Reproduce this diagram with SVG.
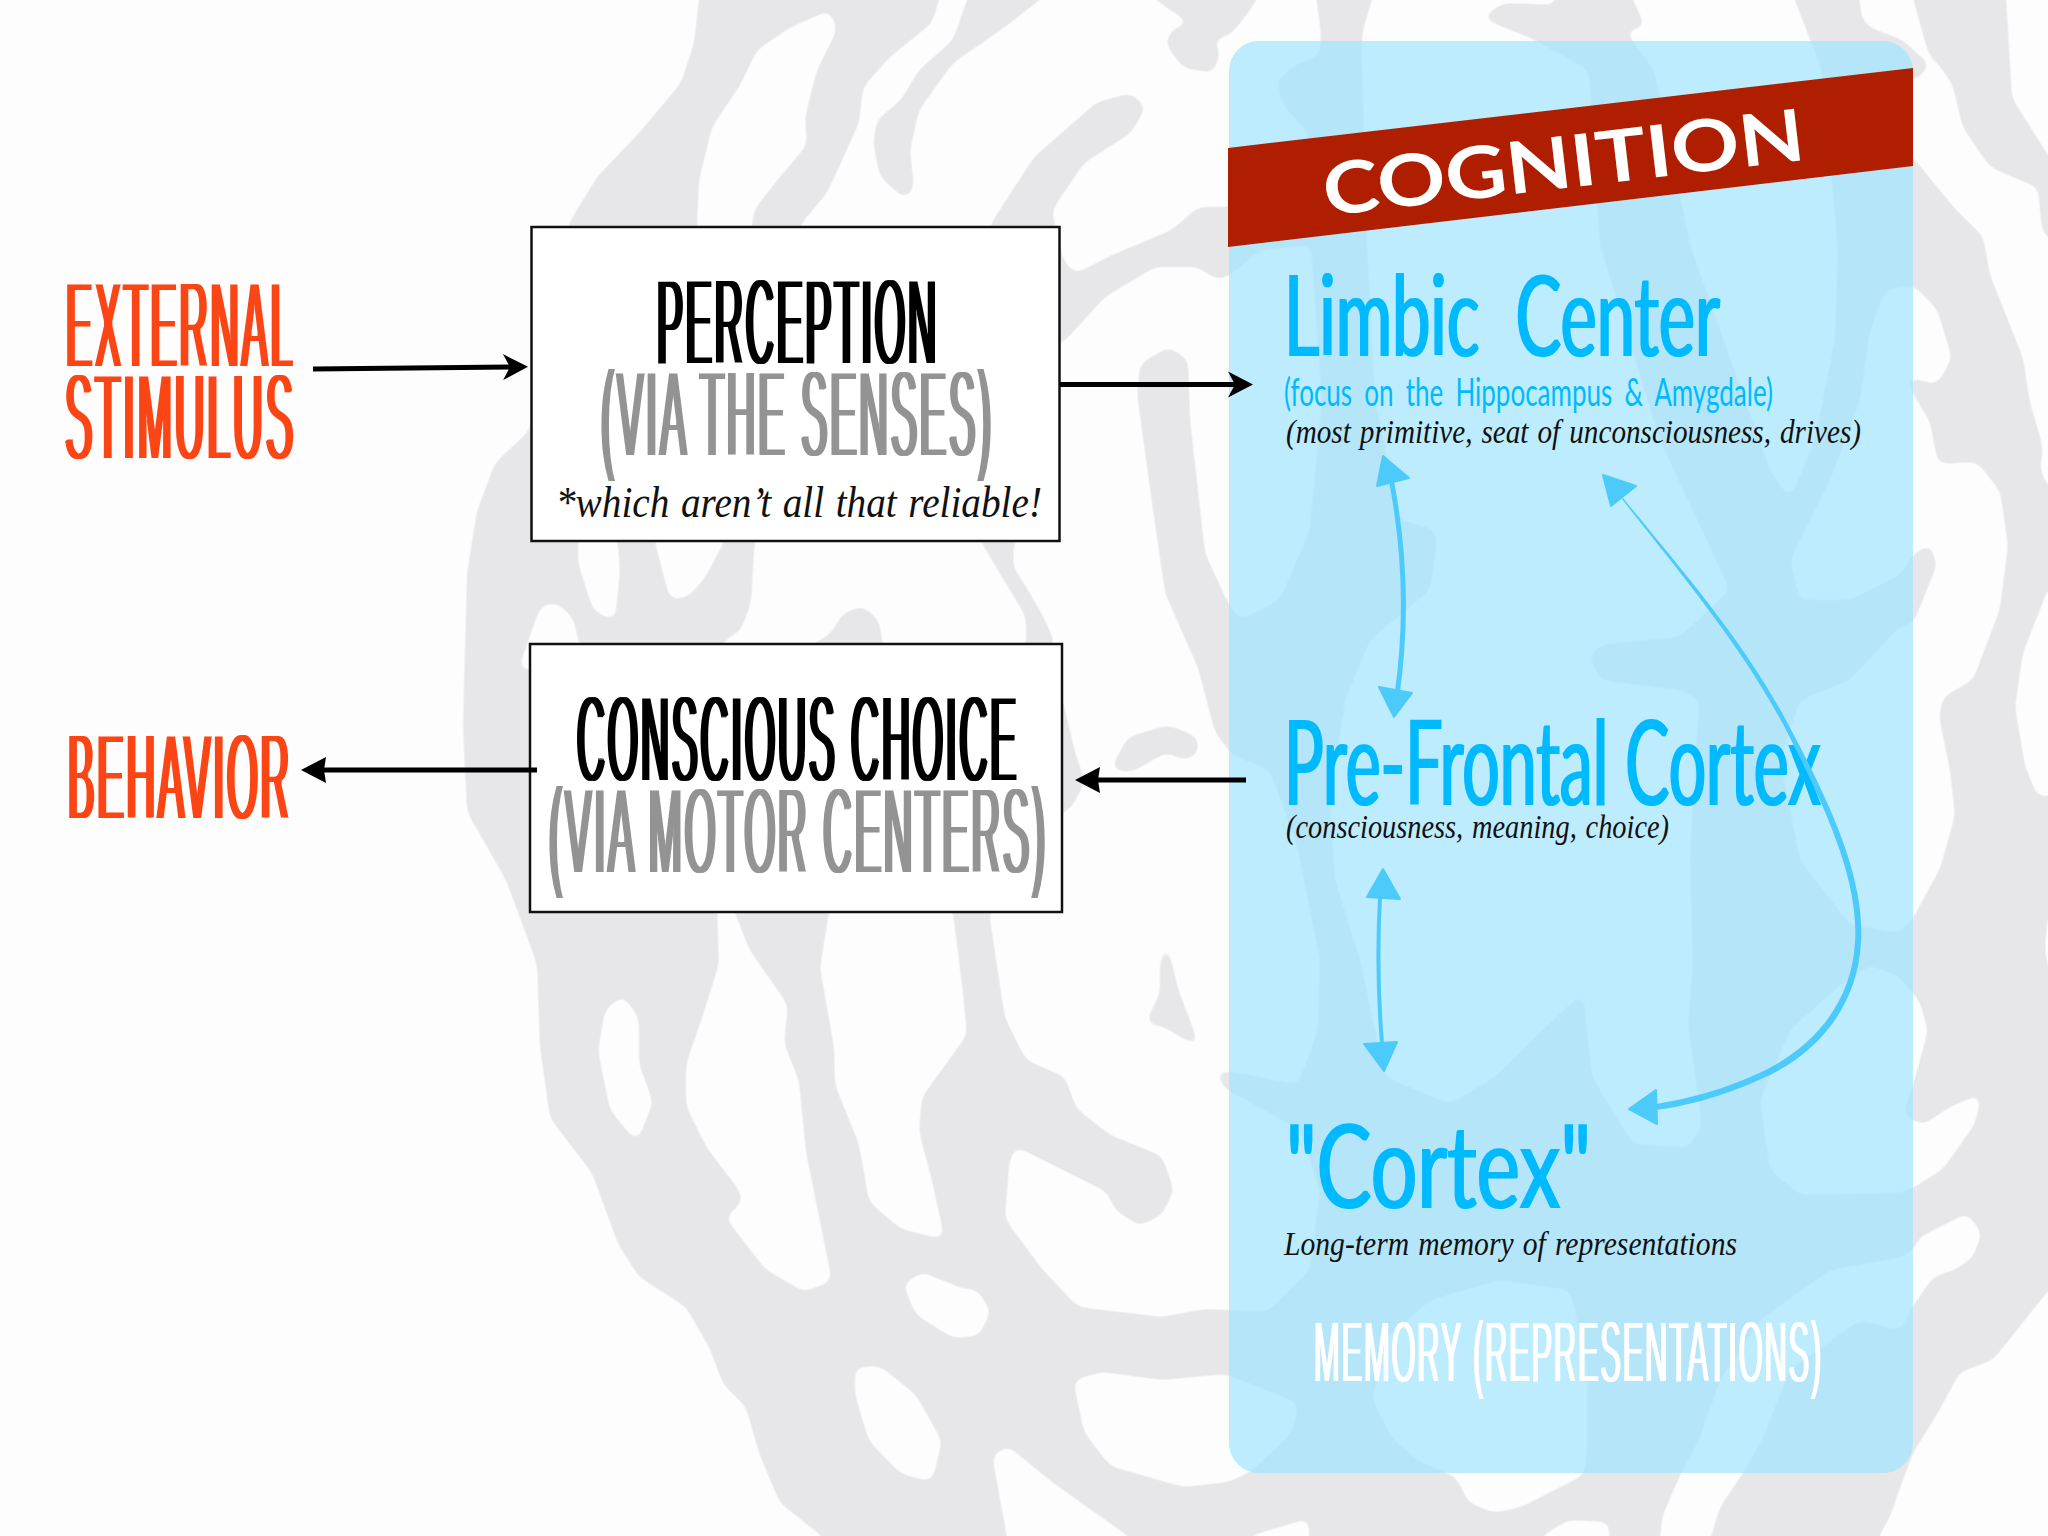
<svg xmlns="http://www.w3.org/2000/svg" width="2048" height="1536" viewBox="0 0 2048 1536">
<style>
.k{fill:#000}.w{fill:#fff}
.t{font-family:"Liberation Sans",Arial,sans-serif;font-size:125px;font-weight:400;letter-spacing:9px;filter:url(#cond)}
.black{fill:#000}.grey{fill:#939393}.orange{fill:#fb4514}
.serif{font-family:"Liberation Serif","Times New Roman",serif;font-style:italic;fill:#111;word-spacing:2px}
.hand{font-family:Lato,"Noto Sans",sans-serif;fill:#00baff}
.fat{filter:url(#fat)}
.box{fill:#fff;stroke:#111;stroke-width:2.5}
.ln{fill:none;stroke:#000;stroke-width:5}
.bl{fill:none;stroke:#4ccbfb;stroke-width:5;stroke-linecap:round}
.bh{fill:#4ccbfb;stroke:#4ccbfb;stroke-width:2;stroke-linejoin:round}
</style>
<defs>
<filter id="cond" x="-5%" y="-10%" width="110%" height="120%" color-interpolation-filters="sRGB"><feMorphology operator="erode" radius="0 2"/><feMorphology operator="dilate" radius="2 0"/></filter>
<filter id="condS" x="-5%" y="-10%" width="110%" height="120%" color-interpolation-filters="sRGB"><feMorphology operator="erode" radius="0 1"/><feMorphology operator="dilate" radius="1 0"/></filter>
<filter id="fat" x="-5%" y="-10%" width="110%" height="120%" color-interpolation-filters="sRGB"><feMorphology operator="dilate" radius="1 0"/></filter>
<filter id="smooth" filterUnits="userSpaceOnUse" x="-60" y="-60" width="2170" height="1660" color-interpolation-filters="sRGB">
<feGaussianBlur stdDeviation="6"/>
<feComponentTransfer>
<feFuncR type="table" tableValues="0.906 0.906 0.906 0.906 0.996 0.996 0.996 0.996"/>
<feFuncG type="table" tableValues="0.906 0.906 0.906 0.906 0.996 0.996 0.996 0.996"/>
<feFuncB type="table" tableValues="0.914 0.914 0.914 0.914 0.996 0.996 0.996 0.996"/>
</feComponentTransfer>
</filter>
<marker id="stealth" markerUnits="userSpaceOnUse" markerWidth="30" markerHeight="30" viewBox="0 0 30 30" refX="11" refY="15" orient="auto"><path d="M1 2L26 15L1 28L8 15Z" fill="#000"/></marker>
<marker id="tri" markerUnits="userSpaceOnUse" markerWidth="30" markerHeight="30" viewBox="0 0 30 30" refX="9" refY="15" orient="auto"><path d="M1 2L26 15L1 28L3 15Z" fill="#000"/></marker>
</defs>
<g id="background" filter="url(#smooth)">
<rect class="w" x="-60" y="-60" width="2170" height="1660"/>
<path class="k" d="M699 -30L699 0 694 43 681 83 639 133 597 177 569 223 545 330 530 430 495 463 477 511 467 573 463 726 467 812 506 880 537 964 540 1047 550 1118 592 1173 618 1244 639 1277 686 1307 710 1349 723 1384 746 1407 759 1453 780 1503 822 1536 840 1570L1870 1570 1879 1536 1890 1517 1900 1488 1913 1453 1940 1409 1960 1372 1993 1360 2048 1291 2090 1260 2090 -30Z"/>
<g class="w">
<path d="M697 240L697 225 699 180 712 127 739 87 757 50 791 27 830 10 837 30 817 70 805 117 807 145 775 183 754 210 750 240Z"/>
<path d="M800 240L800 225 827 193 859 123 863 87 890 57 932 23 945 -20 974 -20 953 40 919 70 901 100 877 120 873 143 880 177 906 200 914 187 910 150 919 110 953 63 1005 27 1065 -20 1131 -20 1167 8 1193 24 1173 28 1165 43 1183 68 1214 73 1220 53 1213 37 1228 37 1243 20 1270 -20 1314 -20 1321 33 1320 55 1295 65 1277 81 1283 105 1310 135 1300 180 1228 207 1198 207 1172 230 1112 255 1075 274 1063 260 1058 232 1055 225 1052 210 1084 163 1131 133 1146 107 1131 93 1097 102 1034 157 990 225 990 240Z"/>
<path d="M1062 344L1105 297 1155 267 1198 267 1215 279 1228 277 1260 250 1311 245 1322 400 1310 530 1280 600 1240 620 1228 603 1205 553 1190 419 1188 359 1168 347 1140 364 1137 394 1152 503 1165 593 1198 668 1215 732 1232 755 1270 770 1297 845 1320 960 1318 1030 1298 1085 1250 1075 1214 1070 1225 1089 1250 1102 1300 1130 1320 1190 1310 1270 1266 1313 1250 1311 1204 1309 1162 1317 1078 1307 1042 1269 1005 1219 1009 1164 1015 1146 1107 1192 1115 1210 1139 1226 1162 1215 1174 1190 1162 1156 1110 1135 1076 1108 1065 1077 1026 1060 1005 1018 989 913 995 905 1050 905 1050 650 1055 643 1045 620 1027 588 1013 567 1014 542 1020 535 1050 530 1050 344Z"/>
<path d="M755 535L751 603 741 630 721 643 715 650 1026 650 1026 617 981 542 981 535Z"/>
<path d="M578 535L578 563 593 610 615 622 620 570 617 535Z"/>
<path d="M653 535L670 600 688 597 705 578 718 553 728 535Z"/>
<path d="M518 670L524 653 540 607 555 602 573 617 578 640 590 670Z"/>
<path d="M623 995L639 1018 639 1064 653 1102 637 1143 610 1110 598 1051 605 1010Z"/>
<path d="M717 905L719 964 702 1018 686 1064 686 1106 707 1148 739 1190 743 1202 725 1217 765 1269 804 1292 832 1281 806 1152 799 1081 784 1043 788 1005 749 949 732 905Z"/>
<path d="M830 905L820 968 834 1047 835 1085 859 1144 869 1202 901 1229 945 1240 932 1181 919 1131 922 1097 967 1035 963 993 952 905Z"/>
<path d="M903 1284L922 1272 966 1290 976 1288 991 1311 979 1336 953 1338 916 1315Z"/>
<path d="M855 1367L880 1366 916 1395 942 1441 932 1482 901 1474 869 1441 855 1395Z"/>
<path d="M1073 1380L1102 1372 1162 1380 1225 1374 1262 1388 1298 1403 1295 1425 1286 1440 1266 1457 1250 1472 1229 1482 1183 1487 1110 1466 1084 1432Z"/>
<path d="M1013 1570L992 1455 1008 1446 1052 1482 1128 1536 1160 1570Z"/>
<path d="M1240 1570L1250 1536 1310 1518 1307 1570Z"/>
<path d="M1530 1570L1542 1536 1568 1520 1610 1522 1607 1570Z"/>
<path d="M1393 1440L1372 1400 1385 1340 1430 1300 1500 1280 1570 1290 1587 1360 1587 1453 1584 1475 1521 1507 1495 1513 1469 1503 1456 1477 1422 1463Z"/>
<path d="M1699 1440L1720 1380 1760 1320 1830 1270 1903 1257 1913 1250 1920 1237 1967 1213 1982 1233 1973 1257 1957 1269 1933 1277 1913 1306 1900 1331 1860 1320 1790 1370 1762 1440 1743 1473 1720 1507 1701 1570 1658 1570 1662 1517 1681 1473Z"/>
<path d="M1378 -20L1554 -20 1557 5 1503 3 1481 18 1535 40 1589 70 1600 245 1660 440 1730 590 1680 637 1600 645 1589 656 1600 680 1680 690 1700 700 1695 760 1690 860 1693 965 1688 1023 1702 1126 1688 1148 1633 1144 1592 1077 1583 992 1541 1032 1495 1077 1450 1104 1385 1077 1360 960 1335 880 1330 800 1345 700 1370 640 1430 590 1436 550 1436 530 1400 520 1375 400 1367 245 1362 70 1362 33Z"/>
<path d="M1624 -20L1787 -20 1822 70 1830 160 1838 250 1835 340 1815 440 1790 500 1770 470 1720 330 1690 245 1654 70 1624 30 1646 28Z"/>
<path d="M1857 -20L1862 20 1871 28 1903 40 1930 66 1917 79 1900 80 1900 150 1913 157 1933 182 1957 211 1983 236 1990 275 2023 358 2030 403 2043 447 2040 471 2060 506 2060 250 2042 231 2038 187 2017 179 1990 167 1963 128 1952 83 1927 49 1908 -20Z"/>
<path d="M2005 -20L2012 98 2070 190 2070 -20Z"/>
<path d="M2070 575L2048 589 2023 653 2015 707 2025 766 2038 798 2070 790Z"/>
<path d="M2070 905L2048 913 2045 948 2048 970 2070 980Z"/>
<path d="M1913 285L1937 309 1952 358 1937 385 1913 378 1905 380 1930 422 1938 464 1977 462 2000 491 2008 545 2000 609 1973 680 1943 697 1939 717 1950 770 1955 815 1940 869 1913 918 1900 933 1850 925 1800 860 1780 760 1800 700 1850 680 1900 626 1913 624 1937 565 1930 543 1913 555 1900 575 1850 600 1800 600 1790 560 1830 480 1860 400 1870 330 1885 290Z"/>
<path d="M1900 977L1920 1002 1928 1031 1913 1085 1903 1115 1923 1125 1950 1107 1982 1093 1975 1124 1943 1169 1913 1188 1900 1193 1800 1195 1770 1170 1760 1100 1790 1030 1840 985 1870 965Z"/>
</g>
<g class="k">
<path d="M1110 770L1128 737 1168 725 1198 737 1198 755 1182 760 1167 752 1132 772Z"/>
<path d="M1050 690L1062 697 1075 752 1085 782 1072 807 1062 814 1050 820Z"/>
<path d="M1167 941L1160 959 1160 993 1145 1024 1162 1026 1201 1049 1178 989Z"/>
<path d="M813 655L813 643 830 635 843 613 863 606 879 620 884 655Z"/>
</g>
</g>
<rect id="panel" x="1229" y="41" width="684" height="1432" rx="30" fill="#9fe4fe" fill-opacity="0.7"/>
<g id="cognition">
<polygon points="1228,148 1913,68 1913,166 1228,247" fill="#b01e00"/>
<text transform="translate(1326,216) rotate(-6.7)" font-family="Lato,'Noto Sans',sans-serif" font-size="72" font-weight="700" fill="#fff" textLength="484" lengthAdjust="spacingAndGlyphs">COGNITION</text>
</g>
<g id="external-stimulus">
<text class="t orange" x="66" y="368" textLength="229" lengthAdjust="spacingAndGlyphs">EXTERNAL</text>
<text class="t orange" x="65" y="460" textLength="231" lengthAdjust="spacingAndGlyphs">STIMULUS</text>
</g>
<g id="behavior">
<text class="t orange" x="68" y="820" textLength="224" lengthAdjust="spacingAndGlyphs">BEHAVIOR</text>
</g>
<g id="perception">
<rect class="box" x="531.5" y="227" width="528" height="314"/>
<text class="t black" x="657" y="365" textLength="282" lengthAdjust="spacingAndGlyphs">PERCEPTION</text>
<text class="t grey" x="601" y="457" textLength="393" lengthAdjust="spacingAndGlyphs">(VIA THE SENSES)</text>
<text class="serif" x="556" y="517" font-size="44" textLength="486" lengthAdjust="spacingAndGlyphs">*which aren’t all that reliable!</text>
</g>
<g id="conscious-choice">
<rect class="box" x="530" y="644" width="532" height="268"/>
<text class="t black" x="577" y="782" textLength="442" lengthAdjust="spacingAndGlyphs">CONSCIOUS CHOICE</text>
<text class="t grey" x="549" y="874" textLength="499" lengthAdjust="spacingAndGlyphs">(VIA MOTOR CENTERS)</text>
</g>
<g id="limbic-center">
<text class="hand fat" x="1284" y="356" font-size="112" word-spacing="30" textLength="436" lengthAdjust="spacingAndGlyphs">Limbic Center</text>
<text class="hand" x="1284" y="406" font-size="38" word-spacing="8" textLength="489" lengthAdjust="spacingAndGlyphs">(focus on the Hippocampus &amp; Amygdale)</text>
<text class="serif" x="1286" y="443" font-size="33" textLength="575" lengthAdjust="spacingAndGlyphs">(most primitive, seat of unconsciousness, drives)</text>
</g>
<g id="pre-frontal-cortex">
<text class="hand fat" x="1284" y="805" font-size="118" textLength="537" lengthAdjust="spacingAndGlyphs">Pre-Frontal Cortex</text>
<text class="serif" x="1286" y="838" font-size="33" textLength="383" lengthAdjust="spacingAndGlyphs">(consciousness, meaning, choice)</text>
</g>
<g id="context">
<text class="hand fat" x="1286" y="1208" font-size="116" textLength="305" lengthAdjust="spacingAndGlyphs">"Cortex"</text>
<text class="serif" x="1284" y="1255" font-size="34" textLength="453" lengthAdjust="spacingAndGlyphs">Long-term memory of representations</text>
</g>
<g id="memory">
<text x="1314" y="1382" font-family="Liberation Sans,Arial,sans-serif" font-size="88" letter-spacing="5" fill="#fff" filter="url(#condS)" textLength="509" lengthAdjust="spacingAndGlyphs">MEMORY (REPRESENTATIONS)</text>
</g>
<g id="connectors">
<line class="ln" x1="313" y1="369" x2="513" y2="367" marker-end="url(#stealth)"/>
<line class="ln" x1="1060" y1="384.5" x2="1238" y2="384.5" marker-end="url(#stealth)"/>
<line class="ln" x1="537" y1="770" x2="318" y2="770" marker-end="url(#tri)"/>
<line class="ln" x1="1246" y1="780" x2="1092" y2="780" marker-end="url(#tri)"/>
<path class="bl" d="M1392 484Q1412 590 1397 695"/>
<polygon class="bh" points="1383,456 1409,478 1377,486"/>
<polygon class="bh" points="1394,717 1379,687 1412,693"/>
<path class="bl" style="stroke-width:4" d="M1380 898Q1376 970 1382 1043"/>
<polygon class="bh" points="1383,869 1400,899 1367,897"/>
<polygon class="bh" points="1384,1071 1364,1044 1397,1042"/>
<path d="M1623 498C1680 568 1742 638 1787 722C1833 808 1865 880 1861 943C1857 1012 1811 1058 1761 1079C1722 1097 1682 1107 1656 1110L1656 1104C1680 1100 1718 1092 1757 1074C1807 1052 1851 1008 1855 943C1859 882 1828 812 1784 726C1739 642 1679 572 1622 499Z" fill="#4ccbfb"/>
<polygon class="bh" points="1603,475 1636,486 1611,506"/>
<polygon class="bh" points="1629,1109 1656,1090 1657,1124"/>
</g>
</svg>
